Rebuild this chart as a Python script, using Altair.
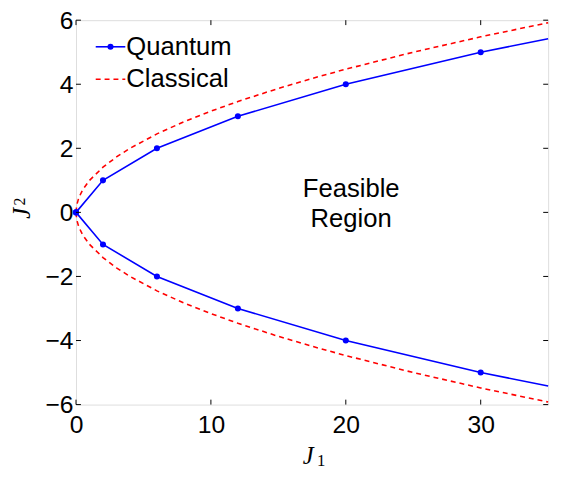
import altair as alt
import pandas as pd

# Quantum branch (upper / lower), markers at integer points
q_x = [0, 2, 6, 12, 20, 30, 35]
q_up = [0, 1, 2, 3, 4, 5, 5.42]
q_dn = [0, -1, -2, -3, -4, -5, -5.42]
q_marker = [True, True, True, True, True, True, False]

# Classical boundary (upper / lower)
c_x = [0, 0.05, 0.2, 0.5, 1, 2, 3, 4, 6, 8, 10, 12, 15, 18, 20, 25, 30, 35]
c_up = [0, 0.22, 0.45, 0.71, 1.0, 1.41, 1.73, 2.0, 2.45, 2.83, 3.16, 3.46, 3.87, 4.24, 4.47, 5.0, 5.48, 5.92]
c_dn = [0, -0.22, -0.45, -0.71, -1.0, -1.41, -1.73, -2.0, -2.45, -2.83, -3.16, -3.46, -3.87, -4.24, -4.47, -5.0, -5.48, -5.92]

x_ticks = [0, 10, 20, 30]
y_ticks = [-6, -4, -2, 0, 2, 4, 6]

W, H = 479, 390
BLUE = "#0000ff"
RED = "#ff0000"
FONT = "Liberation Sans"
SERIF = "Liberation Serif"
FS_TICK = 25
FS_TEXT = 26

qdf = pd.DataFrame({
    "x": q_x + q_x,
    "y": q_up + q_dn,
    "branch": ["up"] * len(q_x) + ["dn"] * len(q_x),
    "marker": q_marker + q_marker,
})
cdf = pd.DataFrame({
    "x": c_x + c_x,
    "y": c_up + c_dn,
    "branch": ["up"] * len(c_x) + ["dn"] * len(c_x),
})

xs = alt.Scale(domain=[0, 35], nice=False, zero=False)
ys = alt.Scale(domain=[-6, 6], nice=False, zero=False)

xaxis = alt.Axis(values=x_ticks, title=None, labelFontSize=FS_TICK, labelFont=FONT,
                 labelColor="black", labelPadding=8, ticks=False, domain=False,
                 grid=False, labelFlush=False, labelOverlap=False)
yaxis = alt.Axis(values=y_ticks, title=None, labelFontSize=FS_TICK, labelFont=FONT,
                 labelColor="black", labelPadding=3, ticks=False, domain=False,
                 grid=False, labelFlush=False, labelOverlap=False,
                 labelExpr="replace(datum.label, '-', '−')")

classical = alt.Chart(cdf).mark_line(color=RED, strokeWidth=1.6, strokeDash=[5, 4]).encode(
    x=alt.X("x:Q", scale=xs, axis=xaxis),
    y=alt.Y("y:Q", scale=ys, axis=yaxis),
    detail="branch:N",
    order="x:Q",
)
quantum = alt.Chart(qdf).mark_line(color=BLUE, strokeWidth=1.6).encode(
    x=alt.X("x:Q", scale=xs),
    y=alt.Y("y:Q", scale=ys),
    detail="branch:N",
    order="x:Q",
)
qpts = alt.Chart(qdf).transform_filter("datum.marker").mark_point(
    filled=True, color=BLUE, size=38, opacity=1).encode(
    x=alt.X("x:Q", scale=xs),
    y=alt.Y("y:Q", scale=ys),
)

# inside ticks
xt = pd.DataFrame({"v": x_ticks})
yt = pd.DataFrame({"v": y_ticks})
tick_style = dict(color="black", strokeWidth=1)
xt_bot = alt.Chart(xt).mark_rule(**tick_style).encode(
    x=alt.X("v:Q", scale=xs), y=alt.value(H), y2=alt.value(H - 5))
xt_top = alt.Chart(xt).mark_rule(**tick_style).encode(
    x=alt.X("v:Q", scale=xs), y=alt.value(0), y2=alt.value(5))
yt_left = alt.Chart(yt).mark_rule(**tick_style).encode(
    y=alt.Y("v:Q", scale=ys), x=alt.value(0), x2=alt.value(5))
yt_right = alt.Chart(yt).mark_rule(**tick_style).encode(
    y=alt.Y("v:Q", scale=ys), x=alt.value(W), x2=alt.value(W - 5))

# annotation
ann = pd.DataFrame({"x": [20.4], "y": [0.74], "t": ["Feasible\nRegion"]})
annot = alt.Chart(ann).mark_text(fontSize=FS_TEXT, font=FONT, color="black",
                                 lineBreak="\n", lineHeight=31, align="center",
                                 baseline="middle").encode(
    x=alt.X("x:Q", scale=xs), y=alt.Y("y:Q", scale=ys), text="t:N")

# axis titles J1 / J2 (italic J with small index)
tdf = pd.DataFrame({"main": ["J"], "sub1": ["1"], "sub2": ["2"]})
xt_J = alt.Chart(tdf).mark_text(font=SERIF, fontStyle="italic", fontSize=25, color="black",
                                align="center", baseline="alphabetic").encode(
    x=alt.value(W / 2 - 4), y=alt.value(H + 60), text="main:N")
xt_1 = alt.Chart(tdf).mark_text(font=SERIF, fontSize=17, color="black",
                                align="left", baseline="alphabetic").encode(
    x=alt.value(W / 2 + 5), y=alt.value(H + 62), text="sub1:N")
yt_J = alt.Chart(tdf).mark_text(font=SERIF, fontStyle="italic", fontSize=25, color="black",
                                align="center", baseline="alphabetic", angle=270).encode(
    x=alt.value(-47), y=alt.value(H / 2 + 1), text="main:N")
yt_2 = alt.Chart(tdf).mark_text(font=SERIF, fontSize=16, color="black",
                                align="center", baseline="alphabetic", angle=270).encode(
    x=alt.value(-52), y=alt.value(H / 2 - 11), text="sub2:N")

# legend
leg_names = ["Quantum", "Classical"]
ldf = pd.DataFrame({"name": leg_names, "py": [27, 60]})
leg_q_line = alt.Chart(ldf.iloc[[0]]).mark_rule(color=BLUE, strokeWidth=1.6).encode(
    x=alt.value(20), x2=alt.value(50), y=alt.value(27))
leg_q_pt = alt.Chart(ldf.iloc[[0]]).mark_point(filled=True, color=BLUE, size=38, opacity=1).encode(
    x=alt.value(35), y=alt.value(27))
leg_c_line = alt.Chart(ldf.iloc[[1]]).mark_rule(color=RED, strokeWidth=1.6, strokeDash=[5, 4]).encode(
    x=alt.value(20), x2=alt.value(50), y=alt.value(60))
leg_text = alt.Chart(ldf).mark_text(fontSize=FS_TEXT, font=FONT, color="black", align="left",
                                    baseline="middle").encode(
    x=alt.value(51), y=alt.Y("py:Q", scale=None), text="name:N")

chart = alt.layer(
    classical, quantum, qpts, xt_bot, xt_top, yt_left, yt_right, annot,
    xt_J, xt_1, yt_J, yt_2,
    leg_q_line, leg_q_pt, leg_c_line, leg_text
).properties(
    width=W, height=H,
    autosize=alt.AutoSizeParams(type="none"),
    padding={"left": 69, "top": 9, "right": 10, "bottom": 62},
).configure_view(stroke="black", strokeWidth=1.5).configure(background="white")

chart.save("out.html", embed_options={"renderer": "svg", "actions": False})
